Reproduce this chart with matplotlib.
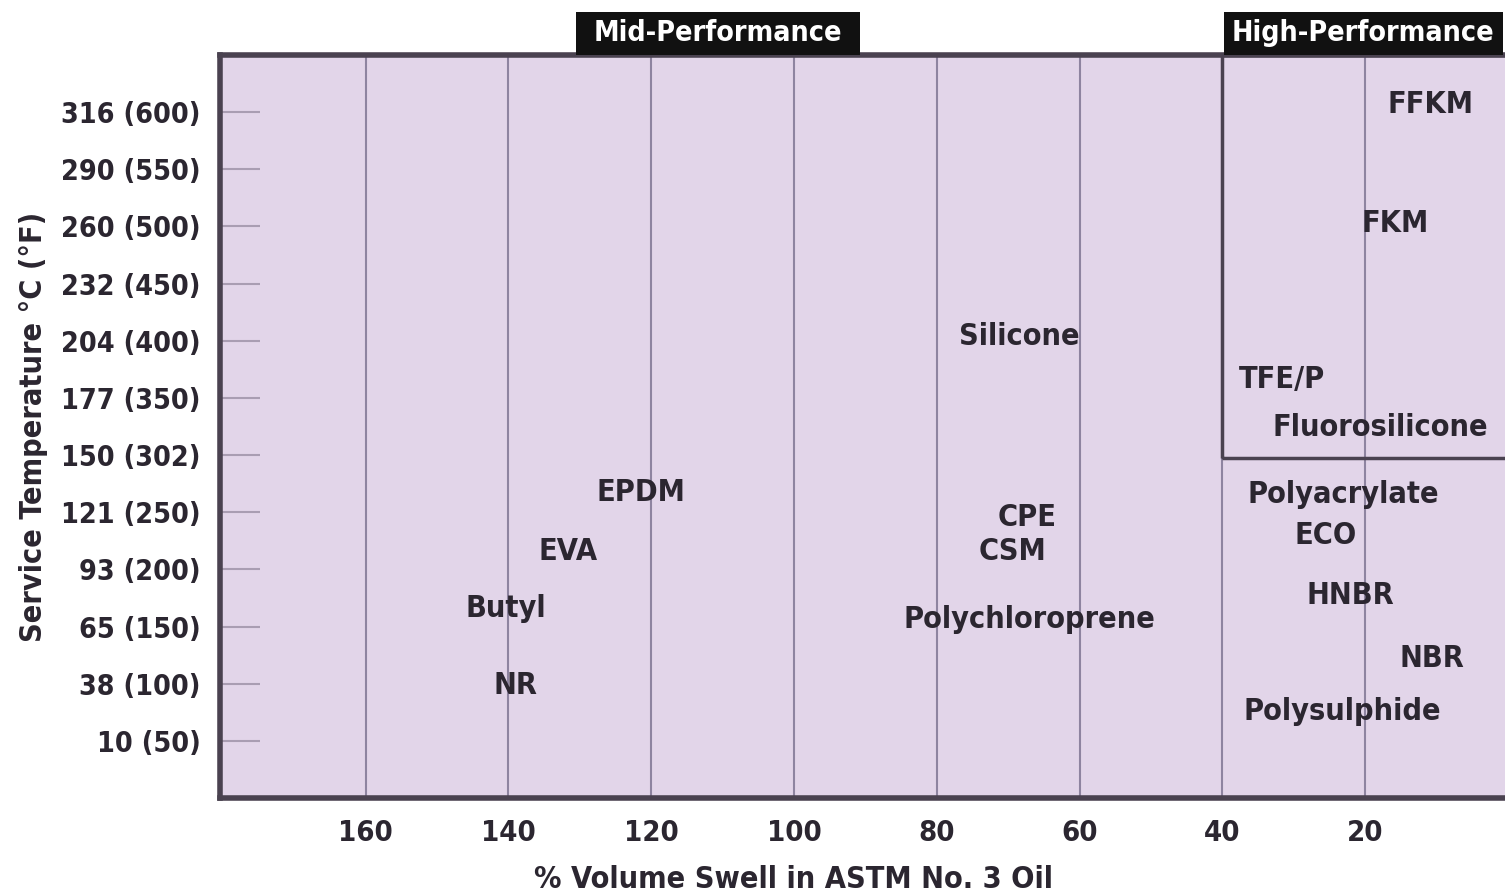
import matplotlib
matplotlib.use("Agg")
import matplotlib.pyplot as plt
from matplotlib.patches import Rectangle
import matplotlib.transforms as mtransforms

# Temperature tick labels, bottom to top (equally spaced rows)
temp_labels = ["10 (50)", "38 (100)", "65 (150)", "93 (200)", "121 (250)", "150 (302)",
               "177 (350)", "204 (400)", "232 (450)", "260 (500)", "290 (550)", "316 (600)"]
swell_ticks = [160, 140, 120, 100, 80, 60, 40, 20]

# Elastomer labels: % volume swell (x) and temperature row (y)
materials = ["FFKM", "FKM", "Silicone", "TFE/P", "Fluorosilicone", "Polyacrylate", "ECO",
             "HNBR", "NBR", "Polysulphide", "EPDM", "EVA", "Butyl", "NR", "CPE", "CSM",
             "Polychloroprene"]
swell = [10.9, 15.8, 68.4, 31.6, 17.8, 23.0, 25.5, 22.0, 10.6, 23.2,
         121.4, 131.7, 140.3, 139.0, 67.4, 69.4, 67.0]
temp_row = [11.13, 9.06, 7.08, 6.33, 5.48, 4.31, 3.6, 2.54, 1.44, 0.52,
            4.35, 3.32, 2.31, 0.96, 3.9, 3.32, 2.12]

FONT = ["Liberation Sans Narrow", "DejaVu Sans"]
ST = "condensed"
TXT = "#2b2630"
BG = "#e2d5e9"
EDGE = "#4a4250"

fig = plt.figure(figsize=(15.05, 8.96), dpi=100)
ax = fig.add_axes([0.1462, 0.1094, 0.8538, 0.8292])
ax.set_facecolor(BG)
ax.set_xlim(180.4, 0.4)
ax.set_ylim(-1, 12)

ax.set_xticks(swell_ticks)
ax.set_xticklabels([str(v) for v in swell_ticks], family=FONT, stretch=ST, weight="bold",
                   fontsize=21, color=TXT)
ax.set_yticks(range(len(temp_labels)))
ax.set_yticklabels(temp_labels, family=FONT, stretch=ST, weight="bold", fontsize=20.5,
                   color=TXT)
ax.tick_params(axis="x", length=0, pad=15)
ax.tick_params(axis="y", direction="in", length=29, width=1.5, color="#a99db2", pad=14)

ax.grid(axis="x", color="#8e84a0", linewidth=1.5)
ax.set_axisbelow(True)

for side in ["left", "bottom", "top"]:
    ax.spines[side].set_color(EDGE)
    ax.spines[side].set_linewidth(4)
ax.spines["right"].set_visible(False)

ax.set_xlabel("% Volume Swell in ASTM No. 3 Oil", family=FONT, stretch=ST, weight="bold",
              fontsize=22, color=TXT)
ax.xaxis.set_label_coords(0.446, -0.09)
ax.set_ylabel("Service Temperature °C (°F)", family=FONT, stretch=ST, weight="bold",
              fontsize=22, color=TXT)
ax.yaxis.set_label_coords(-0.134, 0.5)

# High-performance region box
ax.add_patch(Rectangle((40, 4.95), -40.4, 7.05, fill=False, edgecolor=EDGE,
                       linewidth=2.5, zorder=3, clip_on=False))

for name, x, y in zip(materials, swell, temp_row):
    ax.text(x, y, name, ha="center", va="center", family=FONT, stretch=ST, weight="bold",
            fontsize=22, color=TXT, zorder=4)

# Header tabs above the plot
trans = mtransforms.blended_transform_factory(ax.transData, ax.transAxes)
headers = [("Mid-Performance", 130.6, 90.8), ("High-Performance", 39.8, 0.7)]
for label, x0, x1 in headers:
    ax.add_patch(Rectangle((x0, 1.0), x1 - x0, 0.058, transform=trans,
                           facecolor="#111111", edgecolor="none", clip_on=False, zorder=5))
    ax.text((x0 + x1) / 2, 1.029, label, transform=trans, ha="center", va="center",
            family=FONT, stretch=ST, weight="bold", fontsize=20.5, color="white", zorder=6)

fig.savefig("out.png", dpi=100)
